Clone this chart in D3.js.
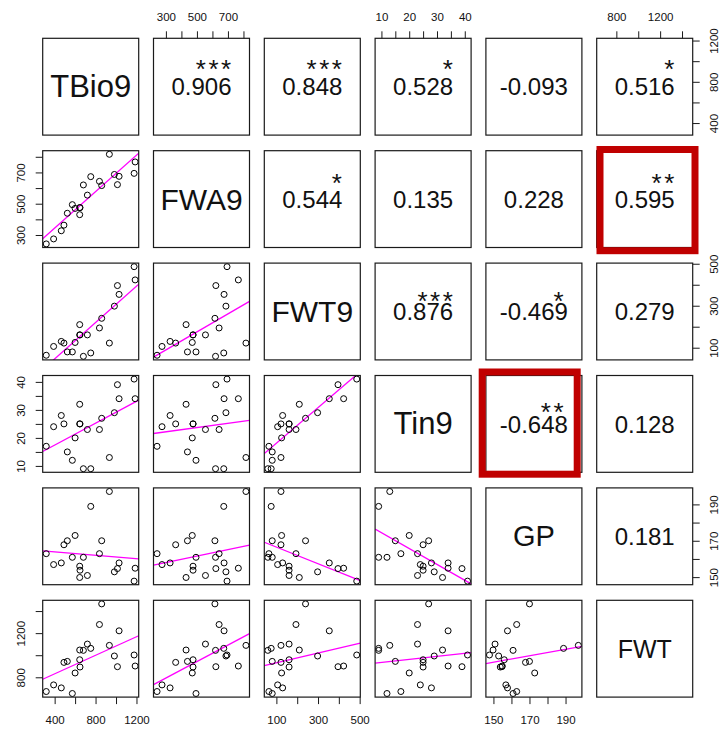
<!DOCTYPE html>
<html>
<head>
<meta charset="utf-8">
<script src="https://cdn.jsdelivr.net/npm/d3@7"></script>
<style>
  body { margin: 0; background: #fff; }
  text { font-family: "Liberation Sans", Arial, sans-serif; fill: #111; }
</style>
</head>
<body>
<div id="pairs"></div>
<script>
// Variables (one value per observation, same order in every array)
const varNames = ["TBio9", "FWA9", "FWT9", "Tin9", "GP", "FWT"];
const tbio9 = [318, 390, 465, 491, 524, 573, 600, 645, 645, 648, 681, 720, 753, 838, 860, 935, 984, 1014, 1030, 1177, 1187];
const fwa9  = [243, 275, 327, 363, 439, 494, 470, 430, 475, 475, 620, 555, 673, 643, 616, 816, 687, 622, 675, 694, 767];
const fwt9  = [64, 106, 130, 122, 80, 80, 125, 210, 161, 161, 59, 161, 75, 194, 240, 122, 298, 396, 354, 486, 423];
const tin9  = [17, 24, 28, 25, 15, 12, 20, 32, 25, 25, 9, 23, 9, 23, 27, 13, 29, 39, 34, 41, 34];
const gp    = [162.9, 156.9, 157.8, 167.8, 170.0, 160.9, 172.9, 149.8, 156.0, 153.8, 160.9, 150.9, 188.9, 162.9, 170.0, 197.1, 152.9, 154.7, 157.8, 147.8, 154.9];
const fwt   = [671, 731, 704, 935, 944, 653, 839, 1047, 959, 893, 1044, 1101, 1062, 1278, 1465, 1089, 993, 896, 1221, 1002, 902];
const columns = [tbio9, fwa9, fwt9, tin9, gp, fwt];

// Upper panels, row by row: correlation text and significance stars
const corrText  = ["0.906", "0.848", "0.528", "-0.093", "0.516",
                   "0.544", "0.135", "0.228", "0.595",
                   "0.876", "-0.469", "0.279",
                   "-0.648", "0.128",
                   "0.181"];
const corrStars = ["***", "***", "*", "", "*",
                   "*", "", "", "**",
                   "***", "*", "",
                   "**", "",
                   ""];
const highlighted = ["1-5", "3-4"];

// Axis ticks and which of them carry labels
const tickVals = [
  [400, 600, 800, 1000, 1200],
  [300, 400, 500, 600, 700, 800],
  [100, 200, 300, 400, 500],
  [10, 15, 20, 25, 30, 35, 40],
  [150, 160, 170, 180, 190],
  [800, 1000, 1200, 1400]
];
const tickText = [
  [400, 800, 1200],
  [300, 500, 700],
  [100, 300, 500],
  [10, 20, 30, 40],
  [150, 170, 190],
  [800, 1200]
];
const labelSize = [31, 30, 30, 31, 29, 25];

// Layout
const n = varNames.length;
const panelW = 96, panelH = 96.8;
const left0 = 42.7, top0 = 38.3, stepX = 110.8, stepY = 112.4;
const px = j => left0 + j * stepX;
const py = i => top0 + i * stepY;
const starShift = [-9, -7, -1.5, -3.4]; // star baseline vs panel middle, per row

const svg = d3.select("#pairs").append("svg")
  .attr("width", 728)
  .attr("height", 729);

// One x scale per column and one y scale per row, padded by 4% as in R
const xScales = columns.map((col, j) => {
  const [lo, hi] = d3.extent(col);
  const pad = (hi - lo) * 0.04;
  return d3.scaleLinear().domain([lo - pad, hi + pad]).range([px(j), px(j) + panelW]);
});
const yScales = columns.map((col, i) => {
  const [lo, hi] = d3.extent(col);
  const pad = (hi - lo) * 0.04;
  return d3.scaleLinear().domain([lo - pad, hi + pad]).range([py(i) + panelH, py(i)]);
});

const defs = svg.append("defs");

let k = 0;
for (let i = 0; i < n; i++) {
  for (let j = 0; j < n; j++) {
    const g = svg.append("g");
    const x0 = px(j), y0 = py(i);

    if (i > j) {
      // scatter panel: column j on x, row i on y
      const clipId = `clip-${i}-${j}`;
      defs.append("clipPath").attr("id", clipId)
        .append("rect")
        .attr("x", x0).attr("y", y0)
        .attr("width", panelW).attr("height", panelH);

      const xs = xScales[j], ys = yScales[i];
      const xv = columns[j], yv = columns[i];
      const pts = xv.map((v, idx) => [v, yv[idx]]);

      // least squares line of y on x
      const mx = d3.mean(xv), my = d3.mean(yv);
      const sxy = d3.sum(pts, p => (p[0] - mx) * (p[1] - my));
      const sxx = d3.sum(xv, v => (v - mx) * (v - mx));
      const slope = sxy / sxx, icpt = my - slope * mx;
      const dom = xs.domain();

      g.append("line")
        .attr("clip-path", `url(#${clipId})`)
        .attr("x1", xs(dom[0])).attr("y1", ys(icpt + slope * dom[0]))
        .attr("x2", xs(dom[1])).attr("y2", ys(icpt + slope * dom[1]))
        .attr("stroke", "#ff00ff")
        .attr("stroke-width", 1.3);

      g.selectAll("circle")
        .data(pts)
        .enter()
        .append("circle")
        .attr("cx", d => xs(d[0]))
        .attr("cy", d => ys(d[1]))
        .attr("r", 3)
        .attr("fill", "none")
        .attr("stroke", "#000")
        .attr("stroke-width", 1);
    } else if (i === j) {
      g.append("text")
        .attr("x", x0 + panelW / 2)
        .attr("y", y0 + panelH / 2)
        .attr("text-anchor", "middle")
        .attr("dominant-baseline", "central")
        .style("font-size", labelSize[i] + "px")
        .text(varNames[i]);
    } else {
      const cx = x0 + panelW / 2, cy = y0 + panelH / 2;
      g.append("text")
        .attr("x", cx)
        .attr("y", cy + 8.6)
        .attr("text-anchor", "middle")
        .style("font-size", "24px")
        .text(corrText[k]);
      if (corrStars[k]) {
        g.append("text")
          .attr("x", x0 + panelW * 0.835)
          .attr("y", cy + starShift[i])
          .attr("text-anchor", "end")
          .style("font-size", "26px")
          .style("letter-spacing", "2.5px")
          .text(corrStars[k]);
      }
      k++;
    }

    // panel frame
    svg.append("rect")
      .attr("x", x0).attr("y", y0)
      .attr("width", panelW).attr("height", panelH)
      .attr("fill", "none")
      .attr("stroke", "#1a1a1a")
      .attr("stroke-width", 1.2);
  }
}

// Axes, alternating sides like R's pairs()
function styleAxis(sel) {
  sel.select(".domain").remove();
  sel.selectAll(".tick line").attr("stroke", "#1a1a1a").attr("stroke-width", 1);
  sel.selectAll(".tick text")
    .style("font-size", "11.5px")
    .attr("fill", "#1a1a1a");
}
const fmt = j => d => tickText[j].includes(d) ? d : "";

for (let j = 0; j < n; j++) {
  if (j % 2 === 1) {
    svg.append("g")
      .attr("transform", `translate(0,${py(0)})`)
      .call(d3.axisTop(xScales[j]).tickValues(tickVals[j]).tickFormat(fmt(j))
        .tickSize(7).tickSizeOuter(0).tickPadding(10.5))
      .call(styleAxis);
  } else {
    svg.append("g")
      .attr("transform", `translate(0,${py(n - 1) + panelH})`)
      .call(d3.axisBottom(xScales[j]).tickValues(tickVals[j]).tickFormat(fmt(j))
        .tickSize(7).tickSizeOuter(0).tickPadding(11.9))
      .call(styleAxis);
  }
}
for (let i = 0; i < n; i++) {
  if (i % 2 === 0) {
    const ax = svg.append("g")
      .attr("transform", `translate(${px(n - 1) + panelW},0)`)
      .call(d3.axisRight(yScales[i]).tickValues(tickVals[i]).tickFormat(fmt(i))
        .tickSize(7).tickSizeOuter(0))
      .call(styleAxis);
    ax.selectAll(".tick text")
      .attr("x", 0).attr("y", 25.4).attr("dy", 0)
      .attr("text-anchor", "middle")
      .attr("transform", "rotate(-90)");
  } else {
    const ax = svg.append("g")
      .attr("transform", `translate(${px(0)},0)`)
      .call(d3.axisLeft(yScales[i]).tickValues(tickVals[i]).tickFormat(fmt(i))
        .tickSize(7).tickSizeOuter(0))
      .call(styleAxis);
    ax.selectAll(".tick text")
      .attr("x", 0).attr("y", -18).attr("dy", 0)
      .attr("text-anchor", "middle")
      .attr("transform", "rotate(-90)");
  }
}

// Red highlight boxes drawn over two correlation panels
const boxOffsets = { "1-5": [3.3, -1.2, 95, 101.2], "3-4": [-3.7, -3.5, 95, 102.2] };
highlighted.forEach(key => {
  const [i, j] = key.split("-").map(Number);
  const o = boxOffsets[key];
  svg.append("rect")
    .attr("x", px(j) + o[0]).attr("y", py(i) + o[1])
    .attr("width", o[2]).attr("height", o[3])
    .attr("fill", "none")
    .attr("stroke", "#c00000")
    .attr("stroke-width", 7);
});
</script>
</body>
</html>
